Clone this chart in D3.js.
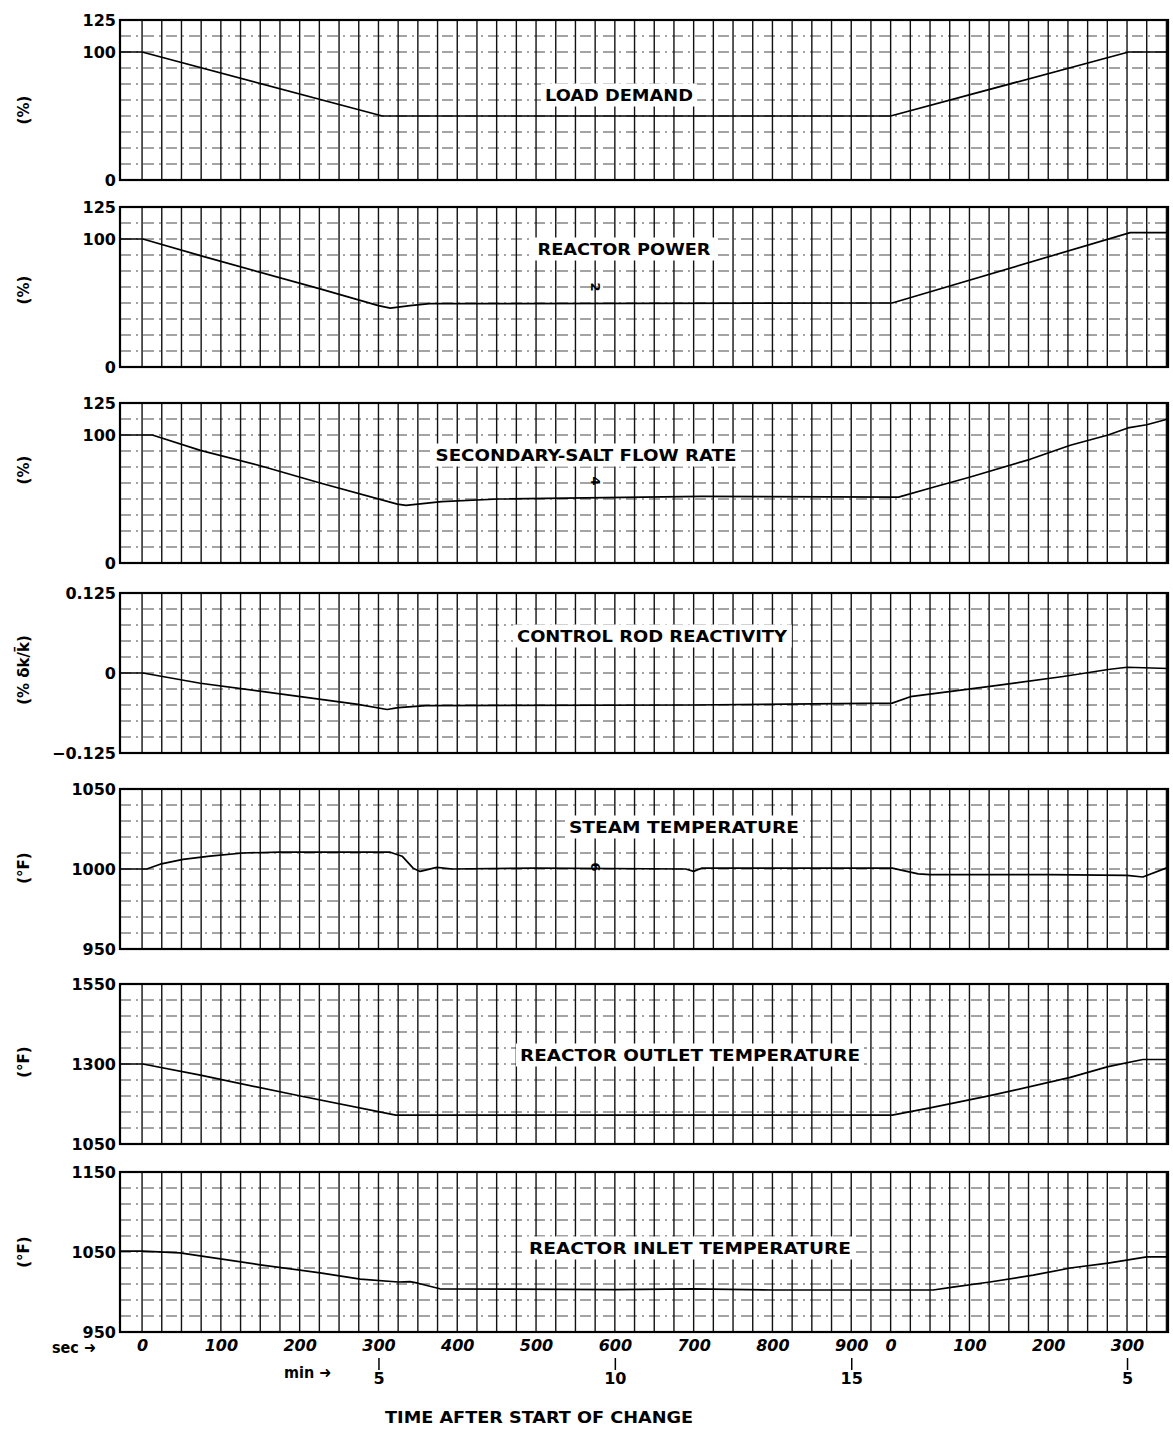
<!DOCTYPE html>
<html lang="en">
<head>
<meta charset="UTF-8">
<title>Load change transient</title>
<script src="https://d3js.org/d3.v7.min.js"></script>
<style>
  body { margin: 0; background: #fff; }
  svg { display: block; }
  .tick text { font-family: "DejaVu Sans", sans-serif; font-weight: bold; }
</style>
</head>
<body>
<script>
// ---- data (time in seconds along the recorder strip; the second ramp starts at 950 s) ----
const panelTitles = ["LOAD DEMAND", "REACTOR POWER", "SECONDARY-SALT FLOW RATE",
  "CONTROL ROD REACTIVITY", "STEAM TEMPERATURE", "REACTOR OUTLET TEMPERATURE", "REACTOR INLET TEMPERATURE"];
const unitLabels = ["(%)", "(%)", "(%)", "(% \u03b4k/k\u0304)", "(\u00b0F)", "(\u00b0F)", "(\u00b0F)"];
const yDomains = [[0, 125], [0, 125], [0, 125], [-0.125, 0.125], [950, 1050], [1050, 1550], [950, 1150]];
const yTickValues = [[0, 100, 125], [0, 100, 125], [0, 100, 125], [-0.125, 0, 0.125],
  [950, 1000, 1050], [1050, 1300, 1550], [950, 1050, 1150]];

const loadTime  = [-28, 0, 305, 950, 1252, 1302];
const loadValue = [100, 100, 50, 50, 100, 100];

const powerTime  = [-28, 1, 74, 226, 300, 315, 340, 365, 952, 1254, 1302];
const powerValue = [100, 100, 87, 61, 48, 46, 48, 49.5, 50, 105, 105];

const flowTime  = [-28, 13, 74, 150, 226, 324, 335, 380, 452, 710, 960, 1003, 1050, 1127, 1178, 1226, 1251, 1275, 1302];
const flowValue = [100, 100, 88, 76, 62.5, 46, 45, 48, 50, 52, 51.5, 59, 67, 81, 92, 100, 105.5, 108, 112.5];

const rodTime  = [-28, 1, 74, 201, 274, 311, 325, 360, 700, 952, 975, 1076, 1169, 1226, 1250, 1302];
const rodValue = [0, 0, -0.016, -0.037, -0.049, -0.057, -0.054, -0.051, -0.05, -0.047, -0.037, -0.021, -0.0055, 0.0055, 0.009, 0.007];

const steamTime  = [-28, 6, 23, 52, 86, 128, 175, 315, 330, 344, 353, 374, 394, 500, 690, 700, 710, 800, 952, 985, 1000, 1150, 1250, 1270, 1302];
const steamValue = [1000, 1000, 1003, 1006, 1008, 1010, 1010.5, 1010.5, 1008, 1000.5, 998.5, 1001, 1000, 1000.5, 1000, 998.5, 1000.5, 1000.5, 1000.5, 997, 996.5, 996.5, 996, 995, 1001];

const outletTime  = [-28, 1, 74, 201, 322, 952, 1000, 1076, 1178, 1226, 1270, 1302];
const outletValue = [1300, 1300, 1265, 1200, 1140, 1140, 1163, 1201, 1258, 1292, 1314, 1314];

const inletTime  = [-28, 1, 48, 150, 226, 277, 325, 340, 350, 378, 600, 700, 800, 1004, 1029, 1076, 1131, 1178, 1226, 1275, 1302];
const inletValue = [1051, 1051, 1049, 1034, 1024, 1016, 1012.5, 1013, 1011, 1004, 1003, 1004, 1002.5, 1002.5, 1006, 1012.5, 1021, 1030, 1036, 1044, 1044];

const seriesTimes  = [loadTime, powerTime, flowTime, rodTime, steamTime, outletTime, inletTime];
const seriesValues = [loadValue, powerValue, flowValue, rodValue, steamValue, outletValue, inletValue];

const curveNumbers = ["", "2", "4", "", "6", "", ""];

const secTickTimes  = [0, 100, 200, 300, 400, 500, 600, 700, 800, 900, 950, 1050, 1150, 1250];
const secTickLabels = ["0", "100", "200", "300", "400", "500", "600", "700", "800", "900", "0", "100", "200", "300"];
const minTickTimes  = [300, 600, 900, 1250];
const minTickLabels = ["5", "10", "15", "5"];

// ---- layout ----
const width = 1173, height = 1431;
const panelTops = [20, 207, 403, 593, 789, 984, 1172];
const panelH = 160;
const titleLayout = [ // centre x, centre y inside panel, text width
  [619, 75, 148], [624, 42, 173], [586, 52, 301], [652, 43, 270],
  [684, 38, 230], [690, 71, 340], [690, 76, 322]];
const unitY = [90, 83, 67, 77, 79, 78, 80];
const numberY = [0, 80, 78, 0, 78, 0, 0];

const svg = d3.select("body").append("svg")
  .attr("width", width).attr("height", height)
  .style("background", "#fff");

const x = d3.scaleLinear().domain([-28, 1302]).range([120, 1168]);
const gridTimes = d3.range(0, 1301, 25);

panelTops.forEach((top, i) => {
  const g = svg.append("g").attr("transform", `translate(0,${top})`);
  const dom = yDomains[i];
  const y = d3.scaleLinear().domain(dom).range([panelH, 0]);

  // horizontal chart-paper lines (dash-dot)
  const hVals = d3.range(1, 10).map(k => dom[0] + k * (dom[1] - dom[0]) / 10);
  g.selectAll(".hgrid").data(hVals).enter().append("line")
    .attr("x1", x.range()[0]).attr("x2", x.range()[1])
    .attr("y1", d => y(d)).attr("y2", d => y(d))
    .attr("stroke", "#333").attr("stroke-width", 0.9)
    .attr("stroke-dasharray", "11,5,2,5");

  // vertical time lines
  g.selectAll(".vgrid").data(gridTimes).enter().append("line")
    .attr("x1", d => x(d)).attr("x2", d => x(d))
    .attr("y1", 0).attr("y2", panelH)
    .attr("stroke", "#111").attr("stroke-width", 1.4);

  // title with white paper behind it
  const [tcx, tcy, tw] = titleLayout[i];
  const title = g.append("text")
    .attr("x", tcx).attr("y", tcy)
    .attr("text-anchor", "middle").attr("dominant-baseline", "central")
    .attr("font-family", "'DejaVu Sans Condensed', 'DejaVu Sans', sans-serif")
    .attr("font-weight", "bold").attr("font-size", 16)
    .attr("textLength", tw).attr("lengthAdjust", "spacingAndGlyphs")
    .text(panelTitles[i]);
  const bb = title.node().getBBox();
  g.insert("rect", "text")
    .attr("x", bb.x - 4).attr("y", bb.y - 2)
    .attr("width", bb.width + 8).attr("height", bb.height + 4)
    .attr("fill", "#fff");

  // curve number written on the trace
  if (curveNumbers[i]) {
    g.append("text")
      .attr("transform", `translate(${x(576)},${numberY[i]}) rotate(90)`)
      .attr("text-anchor", "middle").attr("dominant-baseline", "central")
      .attr("font-family", "'DejaVu Sans', sans-serif").attr("font-weight", "bold")
      .attr("font-size", 13).text(curveNumbers[i]);
  }

  // trace
  const pts = d3.zip(seriesTimes[i], seriesValues[i]);
  g.append("path").datum(pts)
    .attr("fill", "none").attr("stroke", "#000").attr("stroke-width", 1.7)
    .attr("stroke-linejoin", "round")
    .attr("d", d3.line().x(d => x(d[0])).y(d => y(d[1])));

  // frame
  g.append("rect")
    .attr("x", x.range()[0]).attr("y", 0)
    .attr("width", x.range()[1] - x.range()[0]).attr("height", panelH)
    .attr("fill", "none").attr("stroke", "#000").attr("stroke-width", 2.2);

  // y tick labels
  const fmt = i === 3 ? (d => d === 0 ? "0" : (d < 0 ? "\u22120.125" : "0.125")) : d3.format("d");
  const ax = g.append("g").attr("transform", "translate(120,0)")
    .call(d3.axisLeft(y).tickValues(yTickValues[i]).tickSize(0).tickPadding(4).tickFormat(fmt));
  ax.select(".domain").remove();
  ax.selectAll("text").attr("font-size", 16).attr("fill", "#000");

  // unit label
  g.append("text")
    .attr("transform", `translate(24,${unitY[i]}) rotate(-90)`)
    .attr("text-anchor", "middle").attr("dominant-baseline", "central")
    .attr("font-family", "'DejaVu Sans', sans-serif").attr("font-weight", "bold")
    .attr("font-size", 15).text(unitLabels[i]);
});

// ---- time axes ----
const bottom = panelTops[6] + panelH;
const secAxis = svg.append("g").attr("transform", `translate(0,${bottom + 4})`)
  .call(d3.axisBottom(x).tickValues(secTickTimes).tickSize(0).tickPadding(4)
    .tickFormat((d, k) => secTickLabels[k]));
secAxis.select(".domain").remove();
secAxis.selectAll("text").attr("font-size", 16).attr("font-style", "italic").attr("fill", "#000");

svg.append("text").attr("x", 52).attr("y", bottom + 21)
  .attr("font-family", "'DejaVu Sans Condensed', 'DejaVu Sans', sans-serif")
  .attr("font-weight", "bold").attr("font-size", 16).text("sec \u279c");

const minAxis = svg.append("g").attr("transform", `translate(0,${bottom + 26})`)
  .call(d3.axisBottom(x).tickValues(minTickTimes).tickSize(12).tickPadding(3)
    .tickFormat((d, k) => minTickLabels[k]));
minAxis.select(".domain").remove();
minAxis.selectAll("line").attr("stroke", "#000").attr("stroke-width", 1.5);
minAxis.selectAll("text").attr("font-size", 16).attr("fill", "#000");

svg.append("text").attr("x", 284).attr("y", bottom + 46)
  .attr("font-family", "'DejaVu Sans Condensed', 'DejaVu Sans', sans-serif")
  .attr("font-weight", "bold").attr("font-size", 16).text("min \u279c");

svg.append("text").attr("x", 539).attr("y", 1417)
  .attr("text-anchor", "middle").attr("dominant-baseline", "central")
  .attr("font-family", "'DejaVu Sans Condensed', 'DejaVu Sans', sans-serif")
  .attr("font-weight", "bold").attr("font-size", 16)
  .attr("textLength", 308).attr("lengthAdjust", "spacingAndGlyphs")
  .text("TIME AFTER START OF CHANGE");
</script>
</body>
</html>
